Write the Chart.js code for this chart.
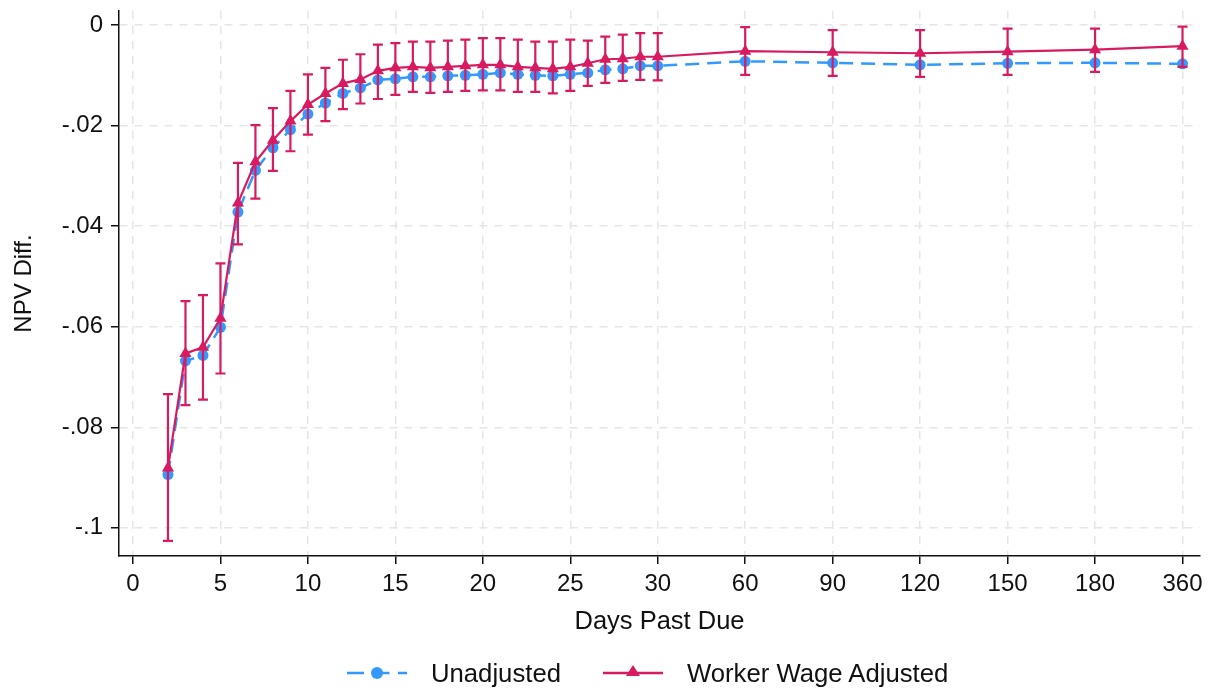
<!DOCTYPE html>
<html>
<head>
<meta charset="utf-8">
<title>NPV Diff. by Days Past Due</title>
<script src="https://cdn.jsdelivr.net/npm/chart.js@4.4.1/dist/chart.umd.min.js"></script>
<style>
  html, body { margin: 0; padding: 0; background: #ffffff; }
  #wrap { position: relative; width: 1216px; height: 692px; font-family: "Liberation Sans", Arial, sans-serif; color: #111; }
  #chart { position: absolute; left: 0; top: 0; }
  #legend { position: absolute; left: 347px; top: 656px; height: 34px; display: flex; align-items: center; font-size: 25.7px; white-space: nowrap; }
  #legend .sym { width: 60px; height: 20px; margin-right: 24px; }
  #legend .gap { width: 42px; }
</style>
</head>
<body>
<div id="wrap">
  <canvas id="chart" width="1216" height="692"></canvas>
  <div id="legend">
    <svg class="sym" viewBox="0 0 60 20">
      <line x1="0" y1="10" x2="60" y2="10" stroke="#3399ff" stroke-width="2.5" stroke-dasharray="17 8.5"/>
      <circle cx="30" cy="10" r="6" fill="#3399ff"/>
    </svg>
    <span>Unadjusted</span>
    <span class="gap"></span>
    <svg class="sym" viewBox="0 0 60 20">
      <line x1="0" y1="10" x2="60" y2="10" stroke="#d81b60" stroke-width="2.5"/>
      <polygon points="30,2 37,13 23,13" fill="#d81b60"/>
    </svg>
    <span>Worker Wage Adjusted</span>
  </div>
</div>
<script>
// Days past due (the axis is broken after 30: later horizons are evenly spaced)
const days = [2, 3, 4, 5, 6, 7, 8, 9, 10, 11, 12, 13, 14, 15, 16, 17, 18, 19, 20,
  21, 22, 23, 24, 25, 26, 27, 28, 29, 30, 60, 90, 120, 150, 180, 360];

// NPV difference, unadjusted
const unadjusted = [-0.0894, -0.0668, -0.0657, -0.0601, -0.0372, -0.0289, -0.0244,
  -0.0208, -0.0177, -0.0155, -0.0136, -0.0125, -0.0109, -0.0107, -0.0103, -0.0103,
  -0.0101, -0.0100, -0.0098, -0.0095, -0.0098, -0.0100, -0.0101, -0.0098, -0.0095,
  -0.0089, -0.0087, -0.0081, -0.0081,
  -0.0072, -0.0075, -0.0079, -0.0076, -0.0075, -0.0077];

// NPV difference, worker wage adjusted
const adjusted = [-0.0881, -0.0653, -0.0641, -0.0583, -0.0354, -0.0272, -0.0229,
  -0.0191, -0.0158, -0.0136, -0.0116, -0.0108, -0.0091, -0.0085, -0.0083, -0.0085,
  -0.0083, -0.0081, -0.0079, -0.0079, -0.0083, -0.0085, -0.0087, -0.0083, -0.0076,
  -0.0068, -0.0067, -0.0063, -0.0063,
  -0.0052, -0.0054, -0.0056, -0.0053, -0.0049, -0.0042];

// Confidence interval of the adjusted series
const adjustedLow = [-0.1026, -0.0756, -0.0745, -0.0693, -0.0436, -0.0345, -0.0290,
  -0.0251, -0.0218, -0.0191, -0.0167, -0.0156, -0.0147, -0.0139, -0.0133, -0.0135,
  -0.0133, -0.0131, -0.0130, -0.0130, -0.0133, -0.0133, -0.0136, -0.0131, -0.0121,
  -0.0115, -0.0111, -0.0109, -0.0110,
  -0.0099, -0.0101, -0.0103, -0.0099, -0.0093, -0.0083];
const adjustedHigh = [-0.0734, -0.0549, -0.0537, -0.0474, -0.0274, -0.0199, -0.0165,
  -0.0131, -0.0098, -0.0085, -0.0069, -0.0058, -0.0039, -0.0036, -0.0033, -0.0033,
  -0.0031, -0.0029, -0.0026, -0.0026, -0.0029, -0.0033, -0.0033, -0.0029, -0.0031,
  -0.0023, -0.0019, -0.0016, -0.0016,
  -0.0004, -0.0010, -0.0010, -0.0007, -0.0007, -0.0003];

// Axis ticks
const xTickLabels = ['0', '5', '10', '15', '20', '25', '30', '60', '90', '120', '150', '180', '360'];
const yTickValues = [0, -0.02, -0.04, -0.06, -0.08, -0.1];
const yTickLabels = ['0', '-.02', '-.04', '-.06', '-.08', '-.1'];

const BLUE = '#3399ff';
const RED = '#d81b60';
const INK = '#111111';
const GRID = '#e6e6e6';
const FONT = '"Liberation Sans", Arial, sans-serif';

// Position on the broken axis: linear up to 30, then one tick step per horizon
const TICK_STEP = 5;
function axisPos(d) {
  if (d <= 30) return d;
  return TICK_STEP * xTickLabels.indexOf(String(d));
}

const toPoints = arr => days.map((d, i) => ({ x: axisPos(d), y: arr[i] }));

// Capped error bars for the adjusted series
const errorBars = {
  id: 'errorBars',
  afterDatasetDraw(chart, args) {
    if (chart.data.datasets[args.index].label !== 'Unadjusted') return;
    const { ctx, scales: { x, y } } = chart;
    const cap = 5;
    ctx.save();
    ctx.strokeStyle = RED;
    ctx.lineWidth = 2.2;
    days.forEach((d, i) => {
      const px = x.getPixelForValue(axisPos(d));
      const y1 = y.getPixelForValue(adjustedLow[i]);
      const y2 = y.getPixelForValue(adjustedHigh[i]);
      ctx.beginPath();
      ctx.moveTo(px, y1); ctx.lineTo(px, y2);
      ctx.moveTo(px - cap, y1); ctx.lineTo(px + cap, y1);
      ctx.moveTo(px - cap, y2); ctx.lineTo(px + cap, y2);
      ctx.stroke();
    });
    ctx.restore();
  }
};

new Chart(document.getElementById('chart'), {
  type: 'line',
  data: {
    datasets: [
      {
        label: 'Unadjusted',
        data: toPoints(unadjusted),
        borderColor: BLUE,
        backgroundColor: BLUE,
        borderWidth: 2.5,
        borderDash: [14, 8],
        pointStyle: 'circle',
        pointRadius: 5.5,
        pointBorderWidth: 0,
        tension: 0,
        order: 1
      },
      {
        label: 'Worker Wage Adjusted',
        data: toPoints(adjusted),
        borderColor: RED,
        backgroundColor: RED,
        borderWidth: 2.2,
        pointStyle: 'triangle',
        pointRadius: 7,
        pointBorderWidth: 0,
        tension: 0,
        order: 0
      }
    ]
  },
  options: {
    responsive: false,
    animation: false,
    events: [],
    layout: { padding: { left: 0, right: 16, top: 11, bottom: 52 } },
    plugins: { legend: { display: false }, tooltip: { enabled: false } },
    scales: {
      x: {
        type: 'linear',
        min: -0.8,
        max: 61,
        afterBuildTicks(scale) {
          scale.ticks = xTickLabels.map((_, i) => ({ value: i * TICK_STEP }));
        },
        afterFit(scale) {
          scale.height = 84;
          scale.paddingLeft = 0;
          scale.paddingRight = 0;
        },
        ticks: {
          autoSkip: false,
          maxRotation: 0,
          padding: 6,
          color: INK,
          font: { family: FONT, size: 24 },
          callback: (v) => xTickLabels[Math.round(v / TICK_STEP)]
        },
        grid: {
          color: GRID,
          lineWidth: 1.5,
          tickColor: INK,
          tickLength: 8,
          tickWidth: 1.5
        },
        border: { display: true, color: INK, width: 1.5, dash: [8, 7] },
        title: {
          display: true,
          text: 'Days Past Due',
          color: INK,
          font: { family: FONT, size: 25.5 },
          padding: { top: 0, bottom: 3 }
        }
      },
      y: {
        type: 'linear',
        min: -0.1056,
        max: 0.0028,
        afterBuildTicks(scale) {
          scale.ticks = yTickValues.map(v => ({ value: v }));
        },
        afterFit(scale) {
          scale.width = 119;
          scale.paddingTop = 0;
          scale.paddingBottom = 0;
        },
        ticks: {
          autoSkip: false,
          padding: 8,
          color: INK,
          font: { family: FONT, size: 24 },
          callback: (v) => yTickLabels[yTickValues.findIndex(t => Math.abs(t - v) < 1e-9)]
        },
        grid: {
          color: GRID,
          lineWidth: 1.5,
          tickColor: INK,
          tickLength: 8,
          tickWidth: 1.5
        },
        border: { display: true, color: INK, width: 1.5, dash: [8, 7] },
        title: {
          display: true,
          text: 'NPV Diff.',
          color: INK,
          font: { family: FONT, size: 24 },
          padding: { top: 10, bottom: 0 }
        }
      }
    }
  },
  plugins: [errorBars]
});
</script>
</body>
</html>
